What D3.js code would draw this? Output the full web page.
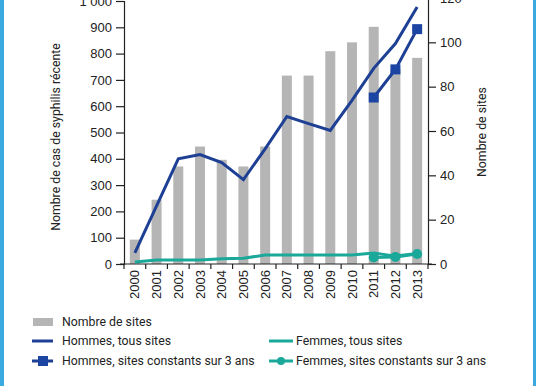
<!DOCTYPE html>
<html lang="fr">
<head>
<meta charset="UTF-8">
<title>Syphilis récente</title>
<script src="https://d3js.org/d3.v7.min.js"></script>
<style>
  body { margin: 0; background: #fff; }
  svg { display: block; font-family: Roboto, "Open Sans", sans-serif; }
  .axis text { font-size: 13px; fill: #222; }
  .axis path, .axis line { stroke: #222; stroke-width: 1.2; }
</style>
</head>
<body>
<svg width="536" height="386"></svg>
<script>
const years = ["2000","2001","2002","2003","2004","2005","2006","2007","2008","2009","2010","2011","2012","2013"];
const sites = [11, 29, 44, 53, 47, 44, 53, 85, 85, 96, 100, 107, 88, 93];
const hommesTous = [42, 221, 400, 416, 386, 321, 438, 561, 534, 508, 622, 744, 838, 977];
const femmesTous = [8, 15, 15, 15, 20, 22, 34, 34, 34, 34, 34, 42, 30, 40];
const hommesConst = [null, null, null, null, null, null, null, null, null, null, null, 633, 740, 893];
const femmesConst = [null, null, null, null, null, null, null, null, null, null, null, 25, 27, 38];
const leftTicks = [0, 100, 200, 300, 400, 500, 600, 700, 800, 900, 1000];
const rightTicks = [0, 20, 40, 60, 80, 100, 120];

const bleu = "#1d3f94", bleuMarq = "#1c45a3", vert = "#1aa89a", gris = "#b5b5b5";

const svg = d3.select("svg");

// bordures bleues
svg.append("rect").attr("x", 0).attr("y", 0).attr("width", 4).attr("height", 386).attr("fill", "#3aa9e0");
svg.append("rect").attr("x", 533).attr("y", 0).attr("width", 3).attr("height", 386).attr("fill", "#3aa9e0");

const x = d3.scaleBand().domain(years).range([124, 428]);
const yL = d3.scaleLinear().domain([0, 1000]).range([264, 1]);
const yR = d3.scaleLinear().domain([0, 120]).range([264, -2]);

// barres
svg.append("g").selectAll("rect").data(sites).join("rect")
  .attr("x", (d, i) => x(years[i]) + x.bandwidth() / 2 - 5)
  .attr("width", 10)
  .attr("y", d => yR(d))
  .attr("height", d => yR(0) - yR(d))
  .attr("fill", gris);

// axes
svg.append("g").attr("class", "axis")
  .attr("transform", "translate(124,0)")
  .call(d3.axisLeft(yL).tickValues(leftTicks).tickSize(8).tickPadding(4).tickFormat(d => d === 1000 ? "1 000" : d));

svg.append("g").attr("class", "axis")
  .attr("transform", "translate(428,0)")
  .call(d3.axisRight(yR).tickValues(rightTicks).tickSize(8).tickPadding(4));

const xAxis = svg.append("g").attr("class", "axis")
  .attr("transform", "translate(0,264)")
  .call(d3.axisBottom(x).tickSize(0).tickPadding(0));
xAxis.select(".domain").remove();
xAxis.selectAll("text")
  .attr("transform", "rotate(-90)")
  .attr("text-anchor", "end")
  .attr("x", -6).attr("y", 0).attr("dy", "0.35em");
svg.append("line").attr("x1", 120).attr("x2", 432).attr("y1", 264).attr("y2", 264)
  .attr("stroke", "#222").attr("stroke-width", 1.2);
svg.append("g").selectAll("line").data(years.concat(["end"])).join("line")
  .attr("x1", (d, i) => x.range()[0] + i * x.step())
  .attr("x2", (d, i) => x.range()[0] + i * x.step())
  .attr("y1", 264).attr("y2", 269)
  .attr("stroke", "#222").attr("stroke-width", 1.2);

// titres des axes
svg.append("text").attr("transform", "translate(60,137) rotate(-90)")
  .attr("text-anchor", "middle").attr("font-size", 12.3).attr("fill", "#222")
  .text("Nombre de cas de syphilis récente");
svg.append("text").attr("transform", "translate(486,132) rotate(-90)")
  .attr("text-anchor", "middle").attr("font-size", 12.3).attr("fill", "#222")
  .text("Nombre de sites");

const cx = i => x(years[i]) + x.bandwidth() / 2;
const line = d3.line().defined(d => d != null).x((d, i) => cx(i)).y(d => yL(d));

svg.append("path").datum(femmesTous).attr("d", line)
  .attr("fill", "none").attr("stroke", vert).attr("stroke-width", 3);
svg.append("path").datum(femmesConst).attr("d", line)
  .attr("fill", "none").attr("stroke", vert).attr("stroke-width", 3);
svg.append("path").datum(hommesTous).attr("d", line)
  .attr("fill", "none").attr("stroke", bleu).attr("stroke-width", 3);
svg.append("path").datum(hommesConst).attr("d", line)
  .attr("fill", "none").attr("stroke", bleu).attr("stroke-width", 3);

svg.append("g").selectAll("rect").data(hommesConst.map((d, i) => [d, i]).filter(p => p[0] != null)).join("rect")
  .attr("x", p => cx(p[1]) - 5).attr("y", p => yL(p[0]) - 5)
  .attr("width", 10).attr("height", 10).attr("fill", bleuMarq);
svg.append("g").selectAll("circle").data(femmesConst.map((d, i) => [d, i]).filter(p => p[0] != null)).join("circle")
  .attr("cx", p => cx(p[1])).attr("cy", p => yL(p[0])).attr("r", 5).attr("fill", vert);

// légende
const leg = svg.append("g").attr("font-size", 12.3).attr("fill", "#222");
leg.append("rect").attr("x", 33).attr("y", 318).attr("width", 20).attr("height", 8).attr("fill", gris);
leg.append("text").attr("x", 62).attr("y", 326).text("Nombre de sites");

leg.append("line").attr("x1", 32).attr("x2", 53).attr("y1", 341).attr("y2", 341).attr("stroke", bleu).attr("stroke-width", 3);
leg.append("text").attr("x", 62).attr("y", 345).text("Hommes, tous sites");

leg.append("line").attr("x1", 32).attr("x2", 53).attr("y1", 361).attr("y2", 361).attr("stroke", bleu).attr("stroke-width", 3);
leg.append("rect").attr("x", 38).attr("y", 356).attr("width", 10).attr("height", 10).attr("fill", bleuMarq);
leg.append("text").attr("x", 62).attr("y", 365).text("Hommes, sites constants sur 3 ans");

leg.append("line").attr("x1", 269).attr("x2", 293).attr("y1", 341).attr("y2", 341).attr("stroke", vert).attr("stroke-width", 3);
leg.append("text").attr("x", 296).attr("y", 345).text("Femmes, tous sites");

leg.append("line").attr("x1", 269).attr("x2", 293).attr("y1", 361).attr("y2", 361).attr("stroke", vert).attr("stroke-width", 3);
leg.append("circle").attr("cx", 281).attr("cy", 361).attr("r", 4).attr("fill", vert);
leg.append("text").attr("x", 296).attr("y", 365).text("Femmes, sites constants sur 3 ans");
</script>
</body>
</html>
